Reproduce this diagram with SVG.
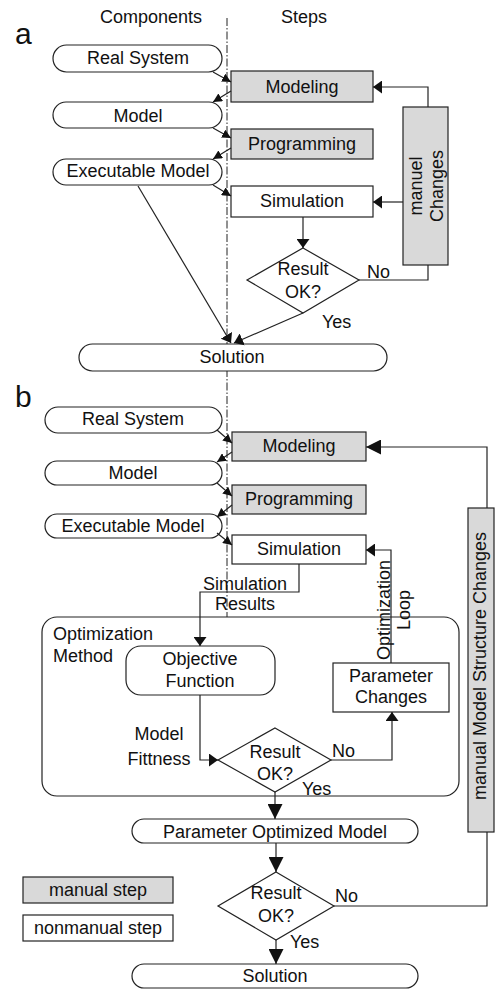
<svg xmlns="http://www.w3.org/2000/svg" width="495" height="989" viewBox="0 0 495 989">
  <style>
    text { font-family: "Liberation Sans", Arial, sans-serif; font-size: 18px; fill: #111; }
    .c { text-anchor: middle; }
    .big { font-size: 30px; }
    .pill, .box, .dia, .frame { fill: #fff; stroke: #222; stroke-width: 1.2; }
    .man { fill: #d9d9d9; stroke: #222; stroke-width: 1.2; }
    .ln { fill: none; stroke: #222; stroke-width: 1.2; }
    .axis { fill: none; stroke: #222; stroke-width: 1; stroke-dasharray: 8 2 1.5 2; }
  </style>
  <defs>
    <marker id="ah" viewBox="0 0 9 13" markerUnits="userSpaceOnUse" markerWidth="9" markerHeight="13" refX="9" refY="6.5" orient="auto">
      <path d="M0,0 L9,6.5 L0,13 z" fill="#111"/>
    </marker>
    <marker id="ahL" viewBox="0 0 15 15" markerUnits="userSpaceOnUse" markerWidth="15" markerHeight="15" refX="15" refY="7.5" orient="auto">
      <path d="M0,0 L15,7.5 L0,15 z" fill="#111"/>
    </marker>
    <marker id="ahS" viewBox="0 0 9 9" markerUnits="userSpaceOnUse" markerWidth="9" markerHeight="9" refX="9" refY="4.5" orient="auto">
      <path d="M0,0 L9,4.5 L0,9 z" fill="#111"/>
    </marker>
  </defs>

  <!-- column headers and lane separator -->
  <g id="headers">
    <text class="c" x="151" y="23">Components</text>
    <text class="c" x="304" y="23">Steps</text>
    <line class="axis" x1="227" y1="18" x2="227" y2="657"/>
  </g>

  <!-- ===== part a ===== -->
  <text class="big" x="15" y="44">a</text>

  <g id="a-real-system">
    <rect class="pill" x="53" y="45" width="169" height="27" rx="13.5"/>
    <text class="c" x="138" y="64">Real System</text>
  </g>
  <g id="a-model">
    <rect class="pill" x="53" y="102" width="169" height="26" rx="13"/>
    <text class="c" x="138" y="122">Model</text>
  </g>
  <g id="a-executable-model">
    <rect class="pill" x="53" y="159" width="169" height="26" rx="13"/>
    <text class="c" x="138" y="177">Executable Model</text>
  </g>
  <g id="a-modeling">
    <rect class="man" x="231" y="71" width="142" height="31"/>
    <text class="c" x="302" y="93">Modeling</text>
  </g>
  <g id="a-programming">
    <rect class="man" x="231" y="129" width="142" height="30"/>
    <text class="c" x="302" y="150">Programming</text>
  </g>
  <g id="a-simulation">
    <rect class="box" x="231" y="186" width="142" height="31"/>
    <text class="c" x="302" y="207">Simulation</text>
  </g>
  <g id="a-manuel-changes">
    <rect class="man" x="403" y="107" width="45" height="158"/>
    <g transform="translate(426,186) rotate(-90)">
      <text class="c" x="0" y="-4">manuel</text>
      <text class="c" x="0" y="17">Changes</text>
    </g>
  </g>
  <g id="a-result-ok">
    <polygon class="dia" points="303,248 359,280 303,313 247,280"/>
    <text class="c" x="303" y="275">Result</text>
    <text class="c" x="303" y="298">OK?</text>
  </g>
  <g id="a-solution">
    <rect class="pill" x="79" y="344" width="308" height="27" rx="13.5"/>
    <text class="c" x="232" y="363">Solution</text>
  </g>

  <!-- ===== part b ===== -->
  <text class="big" x="15" y="407">b</text>

  <g id="b-real-system">
    <rect class="pill" x="45" y="407" width="177" height="26" rx="13"/>
    <text class="c" x="133" y="425">Real System</text>
  </g>
  <g id="b-model">
    <rect class="pill" x="45" y="461" width="177" height="24" rx="12"/>
    <text class="c" x="133" y="479">Model</text>
  </g>
  <g id="b-executable-model">
    <rect class="pill" x="45" y="514" width="177" height="24" rx="12"/>
    <text class="c" x="133" y="532">Executable Model</text>
  </g>
  <g id="b-modeling">
    <rect class="man" x="232" y="432" width="134" height="29"/>
    <text class="c" x="299" y="452">Modeling</text>
  </g>
  <g id="b-programming">
    <rect class="man" x="232" y="485" width="134" height="29"/>
    <text class="c" x="299" y="505">Programming</text>
  </g>
  <g id="b-simulation">
    <rect class="box" x="232" y="535" width="134" height="29"/>
    <text class="c" x="299" y="555">Simulation</text>
  </g>
  <g id="b-optimization-method">
    <rect class="frame" x="42" y="617" width="417" height="179" rx="15" fill="none"/>
    <text x="53" y="640">Optimization</text>
    <text x="53" y="662">Method</text>
  </g>
  <g id="b-objective-function">
    <rect class="pill" x="126" y="646" width="149" height="49" rx="15"/>
    <text class="c" x="200" y="665">Objective</text>
    <text class="c" x="200" y="687">Function</text>
  </g>
  <g id="b-parameter-changes">
    <rect class="box" x="333" y="663" width="116" height="49"/>
    <text class="c" x="391" y="682">Parameter</text>
    <text class="c" x="391" y="703">Changes</text>
  </g>
  <g id="b-result-ok-inner">
    <polygon class="dia" points="275,728 331,760 275,792 218,760"/>
    <text class="c" x="275" y="758">Result</text>
    <text class="c" x="275" y="780">OK?</text>
  </g>
  <g id="b-parameter-optimized-model">
    <rect class="pill" x="132" y="819" width="286" height="24" rx="12"/>
    <text class="c" x="275" y="838">Parameter Optimized Model</text>
  </g>
  <g id="b-result-ok-outer">
    <polygon class="dia" points="276,872 334,906 276,940 218,906"/>
    <text class="c" x="276" y="899">Result</text>
    <text class="c" x="276" y="922">OK?</text>
  </g>
  <g id="b-solution">
    <rect class="pill" x="132" y="964" width="286" height="24" rx="12"/>
    <text class="c" x="275" y="982">Solution</text>
  </g>
  <g id="b-manual-structure-changes">
    <rect class="man" x="468" y="508" width="26" height="324"/>
    <text class="c" transform="translate(486,666) rotate(-90)" x="0" y="0">manual Model Structure Changes</text>
  </g>

  <!-- legend -->
  <g id="legend-manual">
    <rect class="man" x="23" y="877" width="150" height="26"/>
    <text class="c" x="98" y="896">manual step</text>
  </g>
  <g id="legend-nonmanual">
    <rect class="box" x="23" y="915" width="150" height="26"/>
    <text class="c" x="98" y="934">nonmanual step</text>
  </g>

  <!-- connectors -->
  <g id="connectors">
    <!-- part a -->
    <line class="ln" x1="213" y1="72" x2="231" y2="82" marker-end="url(#ahS)"/>
    <line class="ln" x1="231" y1="91" x2="213" y2="102" marker-end="url(#ahS)"/>
    <line class="ln" x1="213" y1="128" x2="231" y2="138" marker-end="url(#ahS)"/>
    <line class="ln" x1="231" y1="148" x2="213" y2="159" marker-end="url(#ahS)"/>
    <line class="ln" x1="213" y1="185" x2="231" y2="196" marker-end="url(#ahS)"/>
    <line class="ln" x1="303" y1="217" x2="303" y2="248" marker-end="url(#ah)"/>
    <polyline class="ln" points="359,280 428,280 428,265"/>
    <polyline class="ln" points="428,107 428,87 373,87" marker-end="url(#ah)"/>
    <line class="ln" x1="403" y1="202" x2="373" y2="202" marker-end="url(#ah)"/>
    <line class="ln" x1="138" y1="186" x2="231" y2="343" marker-end="url(#ah)"/>
    <line class="ln" x1="303" y1="313" x2="234" y2="343" marker-end="url(#ah)"/>
    <text x="367" y="278">No</text>
    <text x="322" y="328">Yes</text>

    <!-- part b -->
    <line class="ln" x1="217" y1="430" x2="232" y2="443" marker-end="url(#ahS)"/>
    <line class="ln" x1="232" y1="452" x2="217" y2="462" marker-end="url(#ahS)"/>
    <line class="ln" x1="217" y1="483" x2="232" y2="496" marker-end="url(#ahS)"/>
    <line class="ln" x1="232" y1="505" x2="217" y2="517" marker-end="url(#ahS)"/>
    <line class="ln" x1="217" y1="533" x2="232" y2="545" marker-end="url(#ahS)"/>
    <polyline class="ln" points="299,564 299,592 200,592 200,646" marker-end="url(#ah)"/>
    <polyline class="ln" points="200,695 200,760 218,760" marker-end="url(#ah)"/>
    <polyline class="ln" points="331,760 392,760 392,712" marker-end="url(#ah)"/>
    <polyline class="ln" points="391,663 391,550 366,550" marker-end="url(#ah)"/>
    <line class="ln" x1="275" y1="792" x2="275" y2="819" marker-end="url(#ahL)"/>
    <line class="ln" x1="276" y1="843" x2="276" y2="872" marker-end="url(#ahL)"/>
    <line class="ln" x1="276" y1="940" x2="276" y2="964" marker-end="url(#ahL)"/>
    <polyline class="ln" points="334,906 487,906 487,832"/>
    <polyline class="ln" points="487,508 487,447 366,447" marker-end="url(#ahL)"/>
    <text class="c" x="245" y="590">Simulation</text>
    <text class="c" x="245" y="610">Results</text>
    <text class="c" x="159" y="740">Model</text>
    <text class="c" x="159" y="765">Fittness</text>
    <g transform="translate(390,610) rotate(-90)">
      <text class="c" x="0" y="0">Optimization</text>
      <text class="c" x="0" y="20">Loop</text>
    </g>
    <text x="332" y="757">No</text>
    <text x="302" y="795">Yes</text>
    <text x="335" y="902">No</text>
    <text x="290" y="948">Yes</text>
  </g>
</svg>
